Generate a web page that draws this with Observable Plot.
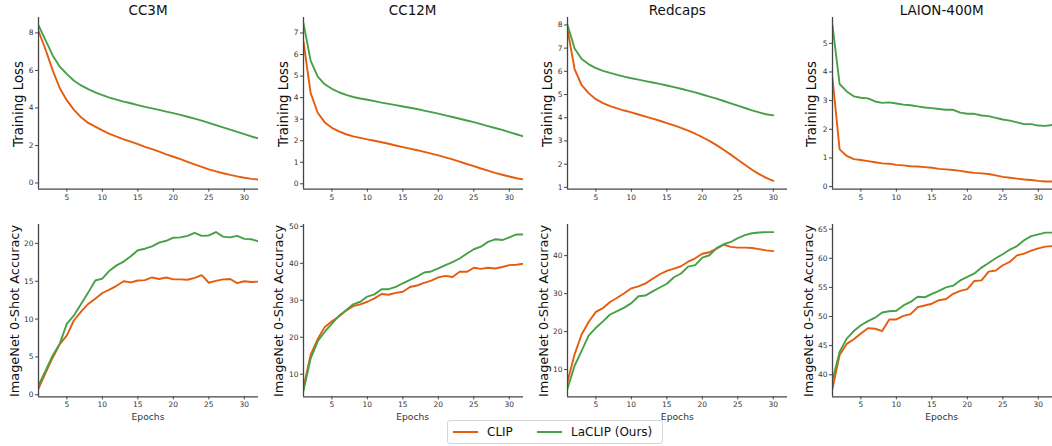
<!DOCTYPE html>
<html><head><meta charset="utf-8">
<script src="https://cdn.jsdelivr.net/npm/d3@7"></script>
<script src="https://cdn.jsdelivr.net/npm/@observablehq/plot@0.6"></script>
<style>
html,body{margin:0;padding:0;background:#fff;}
#root{position:relative;width:1052px;height:446px;overflow:hidden;font-family:"DejaVu Sans",sans-serif;color:#111;}
.panel{position:absolute;}
.title{position:absolute;font-size:13.5px;transform:translate(-50%,-50%);white-space:nowrap;}
.ylab{position:absolute;transform:translate(-50%,-50%) rotate(-90deg);white-space:nowrap;}
.xlab{position:absolute;font-size:9.2px;transform:translate(-50%,-50%);white-space:nowrap;color:#333;}
.legend{position:absolute;left:447px;top:420px;width:216px;height:24px;border:1px solid #d6d6d6;border-radius:3px;box-sizing:border-box;background:#fff;}
.legend .item{position:absolute;top:0;height:22px;display:flex;align-items:center;font-size:12px;}
</style>
</head><body><div id="root"></div>
<script>
// ---------- data ----------
const epochs = [1,2,3,4,5,6,7,8,9,10,11,12,13,14,15,16,17,18,19,20,21,22,23,24,25,26,27,28,29,30,31,32];
const epochsRedcaps = [1,2,3,4,5,6,7,8,9,10,11,12,13,14,15,16,17,18,19,20,21,22,23,24,25,26,27,28,29,30];
const datasets = ["CC3M","CC12M","Redcaps","LAION-400M"];
const seriesNames = ["CLIP","LaCLIP (Ours)"];
const seriesColors = ["#e65c0e","#47a047"];
const xTicks = [5,10,15,20,25,30];

// Training loss
const cc3mLossClip   = [8.1,7.1,6.0,5.05,4.4,3.9,3.5,3.2,3.0,2.8,2.62,2.47,2.33,2.2,2.07,1.93,1.8,1.67,1.53,1.4,1.27,1.13,0.99,0.86,0.73,0.62,0.52,0.43,0.35,0.28,0.22,0.18];
const cc3mLossLaclip = [8.4,7.6,6.8,6.2,5.8,5.45,5.2,5.0,4.83,4.68,4.55,4.44,4.34,4.25,4.15,4.06,3.98,3.9,3.8,3.72,3.63,3.53,3.43,3.32,3.2,3.08,2.96,2.84,2.72,2.6,2.48,2.38];
const cc12mLossClip   = [6.6,4.22,3.3,2.85,2.6,2.43,2.3,2.2,2.13,2.06,2.0,1.93,1.86,1.78,1.7,1.63,1.56,1.48,1.4,1.32,1.23,1.13,1.03,0.92,0.82,0.71,0.61,0.51,0.42,0.34,0.26,0.2];
const cc12mLossLaclip = [7.45,5.72,4.98,4.62,4.41,4.25,4.13,4.03,3.96,3.9,3.84,3.77,3.71,3.65,3.59,3.53,3.47,3.4,3.33,3.26,3.18,3.1,3.02,2.94,2.86,2.77,2.68,2.59,2.5,2.4,2.3,2.2];
const redcapsLossClip   = [7.8,6.1,5.4,5.05,4.8,4.63,4.5,4.4,4.31,4.23,4.14,4.05,3.96,3.87,3.77,3.67,3.56,3.44,3.31,3.16,3.0,2.82,2.62,2.41,2.19,1.97,1.76,1.57,1.41,1.28];
const redcapsLossLaclip = [8.0,6.98,6.53,6.3,6.14,6.02,5.93,5.85,5.77,5.7,5.64,5.58,5.52,5.46,5.39,5.32,5.25,5.17,5.09,5.0,4.91,4.82,4.72,4.62,4.52,4.42,4.32,4.23,4.15,4.1];
const laionLossClip   = [3.78,1.3,1.07,0.96,0.93,0.89,0.85,0.81,0.8,0.76,0.74,0.71,0.7,0.68,0.66,0.62,0.6,0.58,0.55,0.51,0.48,0.46,0.44,0.39,0.34,0.31,0.28,0.25,0.23,0.2,0.18,0.18];
const laionLossLaclip = [5.62,3.58,3.32,3.15,3.1,3.08,2.97,2.92,2.94,2.9,2.86,2.84,2.8,2.76,2.74,2.71,2.68,2.68,2.58,2.54,2.54,2.48,2.46,2.4,2.34,2.3,2.24,2.18,2.18,2.13,2.12,2.15];

// ImageNet 0-shot accuracy
const cc3mAccClip   = [0.8,2.9,4.9,6.7,7.85,9.85,11.0,12.0,12.7,13.45,13.9,14.4,15.0,14.85,15.1,15.15,15.5,15.3,15.5,15.25,15.25,15.2,15.45,15.8,14.8,15.05,15.25,15.3,14.75,15.0,14.9,14.95];
const cc3mAccLaclip = [1.24,3.2,5.2,6.75,9.4,10.5,12.0,13.5,15.1,15.35,16.4,17.1,17.6,18.3,19.1,19.3,19.6,20.1,20.35,20.75,20.8,21.0,21.4,21.0,21.05,21.5,20.9,20.8,21.0,20.6,20.55,20.25];
const cc12mAccClip   = [6.5,15.2,19.5,22.8,24.3,25.6,27.2,28.4,28.9,29.6,30.5,31.7,31.5,32.0,32.3,33.6,34.0,34.7,35.3,36.2,36.6,36.3,37.7,37.7,38.8,38.5,38.8,38.6,39.0,39.5,39.6,39.9];
const cc12mAccLaclip = [5.6,14.2,18.9,21.5,23.7,25.8,27.3,28.9,29.6,31.0,31.6,33.0,33.0,33.6,34.6,35.5,36.4,37.5,37.8,38.6,39.5,40.3,41.3,42.6,43.8,44.5,45.8,46.5,46.3,47.0,47.8,47.8];
const redcapsAccClip   = [6.8,14.0,19.3,22.6,25.2,26.2,27.8,28.9,30.1,31.4,31.9,32.7,33.9,35.1,36.0,36.6,37.2,38.4,39.3,40.5,40.9,41.8,42.9,42.3,42.1,42.1,42.0,41.7,41.4,41.2];
const redcapsAccLaclip = [5.0,11.0,15.0,19.0,21.0,22.7,24.5,25.4,26.3,27.5,29.3,29.5,30.6,31.6,32.6,34.3,35.3,37.1,37.5,39.5,40.1,42.0,43.0,43.6,44.6,45.4,45.9,46.1,46.2,46.2];
const laionAccClip   = [37.6,43.4,45.3,46.1,47.1,48.0,47.9,47.5,49.5,49.5,50.1,50.4,51.6,51.9,52.2,52.8,53.0,53.9,54.4,54.7,56.1,56.2,57.7,57.9,58.8,59.4,60.5,60.8,61.3,61.7,62.0,62.1];
const laionAccLaclip = [39.1,43.9,46.2,47.5,48.5,49.2,49.8,50.7,50.9,51.0,51.9,52.5,53.4,53.3,53.9,54.4,55.0,55.3,56.2,56.8,57.4,58.4,59.2,60.0,60.7,61.5,62.1,63.1,63.8,64.1,64.4,64.4];

// y-axis ticks and domains
const lossTicks = [[0,2,4,6,8],[0,1,2,3,4,5,6,7],[1,2,3,4,5,6,7,8],[0,1,2,3,4,5]];
const accTicks  = [[0,5,10,15,20],[10,20,30,40,50],[10,20,30,40],[40,45,50,55,60,65]];
const lossDomains = [[-0.33,8.82],[-0.25,7.72],[0.92,8.32],[-0.09,5.9]];
const accDomains  = [[-0.28,22.5],[3.86,50.5],[2.8,48.2],[36.2,65.8]];

// ---------- layout ----------
const colLeft = [38, 302.7, 567.3, 831.7];
const panelW = 220;
const rowTop = [17.3, 224.3];
const rowH = [171.7, 172.4];
const ML = 34, MR = 2, MT = 3, MB = 18;
const root = document.getElementById("root");

function addDiv(cls, text, left, top, extra) {
  const d = document.createElement("div");
  d.className = cls; d.textContent = text;
  d.style.left = left + "px"; d.style.top = top + "px";
  if (extra) Object.assign(d.style, extra);
  root.appendChild(d);
}

const fmt = d => String(d);

function panel(col, row, xs, clip, laclip, domain, yTicks) {
  const data = [];
  xs.forEach((e, i) => data.push({epoch: e, series: seriesNames[0], value: clip[i]}));
  xs.forEach((e, i) => data.push({epoch: e, series: seriesNames[1], value: laclip[i]}));
  const svg = Plot.plot({
    width: ML + panelW + MR,
    height: MT + rowH[row] + MB,
    marginLeft: ML, marginRight: MR, marginTop: MT, marginBottom: MB,
    style: {fontFamily: "DejaVu Sans", fontSize: "7.5px", color: "#333", background: "transparent", overflow: "visible"},
    x: {domain: [1, 32]},
    y: {domain: domain},
    color: {domain: seriesNames, range: seriesColors},
    marks: [
      Plot.axisX({ticks: xTicks, tickFormat: fmt, tickSize: 3, tickPadding: 2, label: null, stroke: "#444"}),
      Plot.axisY({ticks: yTicks, tickFormat: fmt, tickSize: 3, tickPadding: 2, label: null, stroke: "#444"}),
      Plot.line(data, {x: "epoch", y: "value", z: "series", stroke: "series", strokeWidth: 1.9, clip: true}),
      Plot.ruleX([1], {stroke: "#444", strokeWidth: 1.3}),
      Plot.ruleY([domain[0]], {stroke: "#444", strokeWidth: 1.3})
    ]
  });
  svg.classList.add("panel");
  svg.style.left = (colLeft[col] - ML) + "px";
  svg.style.top = (rowTop[row] - MT) + "px";
  root.appendChild(svg);
}

const lossSeries = [[cc3mLossClip,cc3mLossLaclip],[cc12mLossClip,cc12mLossLaclip],[redcapsLossClip,redcapsLossLaclip],[laionLossClip,laionLossLaclip]];
const accSeries  = [[cc3mAccClip,cc3mAccLaclip],[cc12mAccClip,cc12mAccLaclip],[redcapsAccClip,redcapsAccLaclip],[laionAccClip,laionAccLaclip]];
const xsPer = [epochs, epochs, epochsRedcaps, epochs];

const lossLabX = [18, 282.5, 547, 811];
const accLabX  = [13.7, 278.3, 543, 808];

for (let c = 0; c < 4; c++) {
  panel(c, 0, xsPer[c], lossSeries[c][0], lossSeries[c][1], lossDomains[c], lossTicks[c]);
  panel(c, 1, xsPer[c], accSeries[c][0], accSeries[c][1], accDomains[c], accTicks[c]);
  const cx = colLeft[c] + panelW / 2;
  addDiv("title", datasets[c], cx, 10);
  addDiv("ylab", "Training Loss", lossLabX[c], 104, {fontSize: "13.3px"});
  addDiv("ylab", "ImageNet 0-Shot Accuracy", accLabX[c], 311, {fontSize: "12.9px"});
  addDiv("xlab", "Epochs", cx, 416);
}

// legend
const leg = document.createElement("div");
leg.className = "legend";
const itemPos = [5, 89];
seriesNames.forEach((name, i) => {
  const it = document.createElement("div");
  it.className = "item";
  it.style.left = itemPos[i] + "px";
  it.innerHTML = `<svg width="25" height="4" style="margin-right:9px"><line x1="0" y1="2" x2="25" y2="2" stroke="${seriesColors[i]}" stroke-width="2"/></svg><span>${name}</span>`;
  leg.appendChild(it);
});
root.appendChild(leg);
</script>
</body></html>
